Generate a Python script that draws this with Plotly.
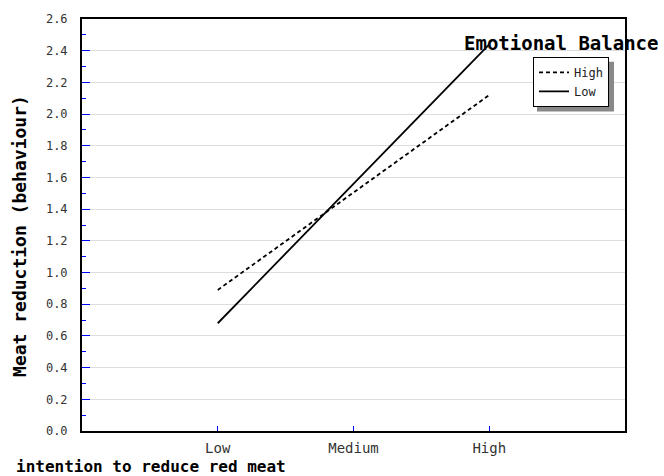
import plotly.graph_objects as go

categories = ["Low", "Medium", "High"]
cat_pos = [1, 2, 3]
high_eb = [0.89, 1.505, 2.12]
low_eb = [0.68, 1.56, 2.44]
y_ticks = [0.0, 0.2, 0.4, 0.6, 0.8, 1.0, 1.2, 1.4, 1.6, 1.8, 2.0, 2.2, 2.4, 2.6]

mono = "DejaVu Sans Mono"
FW, FH = 664, 476
# plot area in page px: x 82..625, y 17..431
PL, PR, PT, PB = 82, 625, 17, 431
W, H = PR - PL, PB - PT


def px(x):
    return (x - PL) / W


def py(y):
    return (PB - y) / H


fig = go.Figure()
fig.add_trace(go.Scatter(x=cat_pos, y=high_eb, mode="lines", name="High",
                         line=dict(color="black", width=1.8, dash="4px,3px")))
fig.add_trace(go.Scatter(x=cat_pos, y=low_eb, mode="lines", name="Low",
                         line=dict(color="black", width=1.8)))

fig.update_layout(
    width=FW, height=FH,
    margin=dict(l=PL, r=FW - PR, t=PT, b=FH - PB),
    plot_bgcolor="white", paper_bgcolor="white",
    font=dict(family=mono, size=11, color="#333"),
    showlegend=True,
    legend=dict(x=px(533), y=py(55), xanchor="left", yanchor="top",
                bgcolor="white", bordercolor="black", borderwidth=1,
                font=dict(family=mono, size=12, color="#222"),
                tracegroupgap=0),
    xaxis=dict(range=[0, 4], tickvals=cat_pos, ticktext=categories,
               showgrid=False, zeroline=False,
               showline=True, linecolor="black", linewidth=2, mirror=True,
               ticks="inside", tickcolor="blue", ticklen=5, tickwidth=1,
               ticklabelstandoff=3,
               tickfont=dict(family=mono, size=14, color="#333")),
    yaxis=dict(range=[0, 2.6], tickvals=y_ticks,
               ticktext=[f"{v:.1f}" for v in y_ticks],
               showgrid=True, gridcolor="#dddddd", gridwidth=1, zeroline=False,
               showline=True, linecolor="black", linewidth=2, mirror=True,
               ticks="inside", tickcolor="blue", ticklen=8, tickwidth=1,
               ticklabelstandoff=10,
               minor=dict(dtick=0.1, ticks="inside", ticklen=4, tickcolor="blue", showgrid=False),
               tickfont=dict(family=mono, size=12, color="#333")),
    annotations=[
        dict(text="<b>Emotional Balance</b>", x=px(561), y=py(41), xref="paper", yref="paper",
             showarrow=False, font=dict(family=mono, size=19, color="black"),
             xanchor="center", yanchor="middle"),
        dict(text="<b>intention to reduce red meat</b>", x=px(14), y=py(467),
             xref="paper", yref="paper",
             showarrow=False, font=dict(family=mono, size=16, color="black"),
             xanchor="left", yanchor="middle"),
        dict(text="<b>Meat reduction (behaviour)</b>", x=px(20), y=py(235),
             xref="paper", yref="paper", textangle=-90,
             showarrow=False, font=dict(family=mono, size=18, color="black"),
             xanchor="center", yanchor="middle"),
    ],
    shapes=[
        dict(type="rect", xref="paper", yref="paper", layer="above",
             x0=px(537), x1=px(614), y0=py(60), y1=py(110),
             fillcolor="#888888", line=dict(width=0)),
    ],
)
fig.write_html("out.html", config={"displayModeBar": False},
               post_script="document.body.style.margin='0';")
